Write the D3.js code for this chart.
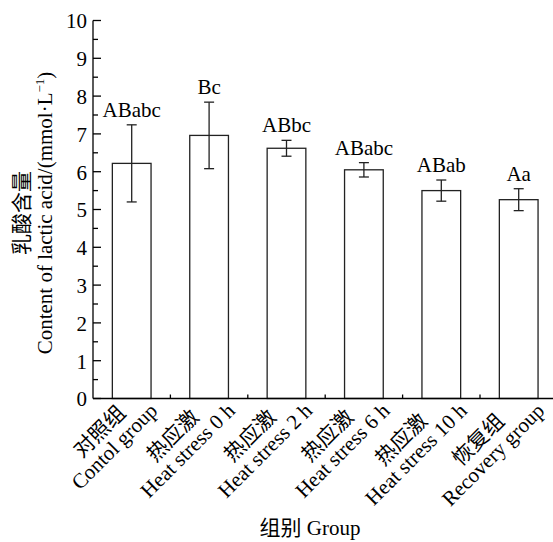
<!DOCTYPE html>
<html>
<head>
<meta charset="utf-8">
<script src="https://cdn.jsdelivr.net/npm/d3@7"></script>
<style>
  body { margin: 0; background: #fff; }
  svg { display: block; }
  text { font-family: "Liberation Serif", "Noto Sans CJK SC", serif; fill: #000; }
</style>
</head>
<body>
<svg></svg>
<script>
const width = 553;
const height = 542;

// data
const groupsCn = ["对照组", "热应激", "热应激", "热应激", "热应激", "恢复组"];
const groupsEn = ["Contol group", "Heat stress 0 h", "Heat stress 2 h", "Heat stress 6 h", "Heat stress 10 h", "Recovery group"];
const means = [6.22, 6.96, 6.62, 6.05, 5.50, 5.26];
const errs = [1.02, 0.88, 0.21, 0.19, 0.28, 0.29];
const letters = ["ABabc", "Bc", "ABbc", "ABabc", "ABab", "Aa"];
const yTicks = [0, 1, 2, 3, 4, 5, 6, 7, 8, 9, 10];

const svg = d3.select("svg")
  .attr("width", width)
  .attr("height", height);

const x = d3.scaleBand()
  .domain(groupsEn)
  .range([93, 557.4])
  .paddingInner(0.5)
  .paddingOuter(0.25);

const y = d3.scaleLinear()
  .domain([0, 10])
  .range([398.5, 20.5]);

const fs = 21;

// bars
svg.append("g")
  .selectAll("rect")
  .data(means)
  .join("rect")
  .attr("x", (d, i) => x(groupsEn[i]))
  .attr("y", d => y(d))
  .attr("width", x.bandwidth())
  .attr("height", d => y(0) - y(d))
  .attr("fill", "#fff")
  .attr("stroke", "#222")
  .attr("stroke-width", 1.3);

// error bars
const eb = svg.append("g")
  .attr("stroke", "#222")
  .attr("stroke-width", 1.3)
  .selectAll("g")
  .data(means)
  .join("g")
  .attr("transform", (d, i) => `translate(${x(groupsEn[i]) + x.bandwidth() / 2},0)`);

eb.append("line")
  .attr("y1", (d, i) => y(d + errs[i]))
  .attr("y2", (d, i) => y(d - errs[i]));
eb.append("line")
  .attr("x1", -5).attr("x2", 5)
  .attr("y1", (d, i) => y(d + errs[i]))
  .attr("y2", (d, i) => y(d + errs[i]));
eb.append("line")
  .attr("x1", -5).attr("x2", 5)
  .attr("y1", (d, i) => y(d - errs[i]))
  .attr("y2", (d, i) => y(d - errs[i]));

// significance letters
svg.append("g")
  .selectAll("text")
  .data(letters)
  .join("text")
  .attr("x", (d, i) => x(groupsEn[i]) + x.bandwidth() / 2)
  .attr("y", (d, i) => y(means[i] + errs[i]) - 8)
  .attr("text-anchor", "middle")
  .attr("font-size", fs)
  .text(d => d);

// y axis
const yAxis = svg.append("g")
  .attr("transform", "translate(93,0)")
  .call(d3.axisLeft(y).tickValues(yTicks).tickSize(0).tickPadding(6).tickFormat(d3.format("d")));
yAxis.select(".domain").remove();
yAxis.selectAll("text")
  .attr("font-size", fs)
  .attr("font-family", "Liberation Serif, serif")
  .attr("dy", "0.35em");

const axisG = svg.append("g")
  .attr("stroke", "#000")
  .attr("stroke-width", 1.3);

axisG.append("line")
  .attr("x1", 93).attr("x2", 93)
  .attr("y1", y(10)).attr("y2", y(0));
axisG.append("line")
  .attr("x1", 93).attr("x2", width)
  .attr("y1", y(0)).attr("y2", y(0));

// major and minor y ticks, pointing inward
axisG.selectAll(".ymaj")
  .data(yTicks)
  .join("line")
  .attr("x1", 93).attr("x2", 101)
  .attr("y1", d => y(d)).attr("y2", d => y(d));
axisG.selectAll(".ymin")
  .data(yTicks.slice(0, -1).map(d => d + 0.5))
  .join("line")
  .attr("x1", 93).attr("x2", 98)
  .attr("y1", d => y(d)).attr("y2", d => y(d));

// x ticks between groups
axisG.selectAll(".xt")
  .data(groupsEn.slice(1))
  .join("line")
  .attr("x1", d => x(d) - x.step() / 4)
  .attr("x2", d => x(d) - x.step() / 4)
  .attr("y1", y(0)).attr("y2", y(0) - 4);

// x tick labels, two lines rotated -45
const lab = svg.append("g")
  .selectAll("g")
  .data(groupsEn)
  .join("g")
  .attr("transform", d => `translate(${x(d) + x.bandwidth() / 2 + 27},412) rotate(-45)`);

lab.each(function (d, i) {
  const g = d3.select(this);
  const en = g.append("text")
    .attr("text-anchor", "end")
    .attr("font-size", fs)
    .text(d);
  const w = en.node().getComputedTextLength();
  g.append("text")
    .attr("x", -w / 2)
    .attr("y", -21)
    .attr("text-anchor", "middle")
    .attr("font-size", fs)
    .text(groupsCn[i]);
});

// axis titles
svg.append("text")
  .attr("x", 310)
  .attr("y", 535)
  .attr("text-anchor", "middle")
  .attr("font-size", fs)
  .text("组别 Group");

const yt = svg.append("g")
  .attr("transform", "translate(0,213) rotate(-90)");
yt.append("text")
  .attr("x", 0)
  .attr("y", 29)
  .attr("text-anchor", "middle")
  .attr("font-size", fs)
  .text("乳酸含量");
const t2 = yt.append("text")
  .attr("x", 0)
  .attr("y", 52)
  .attr("text-anchor", "middle")
  .attr("font-size", fs);
t2.append("tspan").text("Content of lactic acid/(mmol·L");
t2.append("tspan").attr("font-size", 13).attr("dy", -8).text("−1");
t2.append("tspan").attr("dy", 8).text(")");
</script>
</body>
</html>
